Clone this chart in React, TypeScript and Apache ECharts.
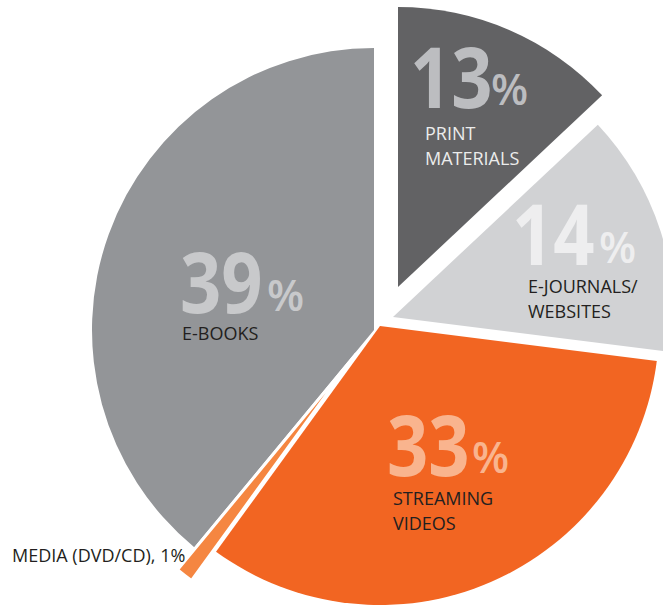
import React, { useEffect, useRef } from "react";
import * as echarts from "echarts";

// ---- data ----
const categories = ["PRINT MATERIALS", "E-JOURNALS/WEBSITES", "STREAMING VIDEOS", "MEDIA (DVD/CD)", "E-BOOKS"];
const values = [13, 14, 33, 1, 39];
const nameLines = [["PRINT", "MATERIALS"], ["E-JOURNALS/", "WEBSITES"], ["STREAMING", "VIDEOS"], ["MEDIA (DVD/CD)"], ["E-BOOKS"]];

// ---- styles / layout ----
const sliceColors = ["#626264", "#d1d2d4", "#f26522", "#f58641", "#939598"];
const sliceCenters = [[398, 287], [393, 317], [380, 326], [356, 354], [374, 330]];
const sliceRadius = [280, 281, 279, 280, 282];
const sliceBorder = [0, 0, 0, 3, 0];
const bigColors = ["#bcbdc0", "#eeeeef", "#f9b48e", null, "#c8c9cb"];
const nameColors = ["#ececec", "#231f20", "#231f20", "#231f20", "#231f20"];
// [digitsX, digitsCenterY, percentX, percentCenterY, nameX, firstNameCenterY]
const labelLayout: (number[] | null)[] = [
  [410, 75, 491, 88, 425, 133],
  [512, 232, 599, 246, 528, 286],
  [387, 443, 472, 456, 393, 498],
  null,
  [180, 280, 267, 294, 182, 333],
];
const mediaLabelPos = [12, 555];
const lineGap = 25;

export default function App() {
  const ref = useRef<HTMLDivElement>(null);
  useEffect(() => {
    document.body.style.margin = "0";
    if (!ref.current) return;
    const chart = echarts.init(ref.current, null, { renderer: "svg" });

    const series = values.map((_, i) => ({
      type: "pie",
      name: categories[i],
      center: sliceCenters[i],
      radius: sliceRadius[i],
      startAngle: 90,
      clockwise: true,
      silent: true,
      z: i === 3 ? 3 : 2,
      label: { show: false },
      labelLine: { show: false },
      emphasis: { disabled: true },
      data: values.map((v, j) => ({
        value: v,
        name: categories[j],
        itemStyle:
          j === i
            ? { color: sliceColors[j], borderColor: "#ffffff", borderWidth: sliceBorder[j] }
            : { color: "rgba(0,0,0,0)", borderWidth: 0 },
      })),
    }));

    const graphics: any[] = [];
    values.forEach((v, i) => {
      const L = labelLayout[i];
      if (!L) return;
      graphics.push({
        type: "text",
        x: L[0],
        y: L[1],
        z: 100,
        scaleX: 0.86,
        silent: true,
        style: {
          text: String(v),
          fontFamily: "Open Sans",
          fontWeight: "bold",
          fontSize: 84,
          fill: bigColors[i],
          verticalAlign: "middle",
          align: "left",
        },
      });
      graphics.push({
        type: "text",
        x: L[2],
        y: L[3],
        z: 100,
        silent: true,
        style: {
          text: "%",
          fontFamily: "Open Sans",
          fontWeight: 600,
          fontSize: 43,
          fill: bigColors[i],
          verticalAlign: "middle",
          align: "left",
        },
      });
      nameLines[i].forEach((line, k) => {
        graphics.push({
          type: "text",
          x: L[4],
          y: L[5] + k * lineGap,
          z: 100,
          silent: true,
          style: {
            text: line,
            fontFamily: "Open Sans",
            fontSize: 18,
            fill: nameColors[i],
            verticalAlign: "middle",
            align: "left",
          },
        });
      });
    });
    graphics.push({
      type: "text",
      x: mediaLabelPos[0],
      y: mediaLabelPos[1],
      z: 100,
      silent: true,
      style: {
        text: `${nameLines[3][0]}, ${values[3]}%`,
        fontFamily: "Open Sans",
        fontSize: 18,
        fill: nameColors[3],
        verticalAlign: "middle",
        align: "left",
      },
    });

    chart.setOption({
      animation: false,
      backgroundColor: "#ffffff",
      series,
      graphic: { elements: graphics },
    });
    return () => chart.dispose();
  }, []);
  return <div ref={ref} style={{ width: 663, height: 605 }} />;
}
